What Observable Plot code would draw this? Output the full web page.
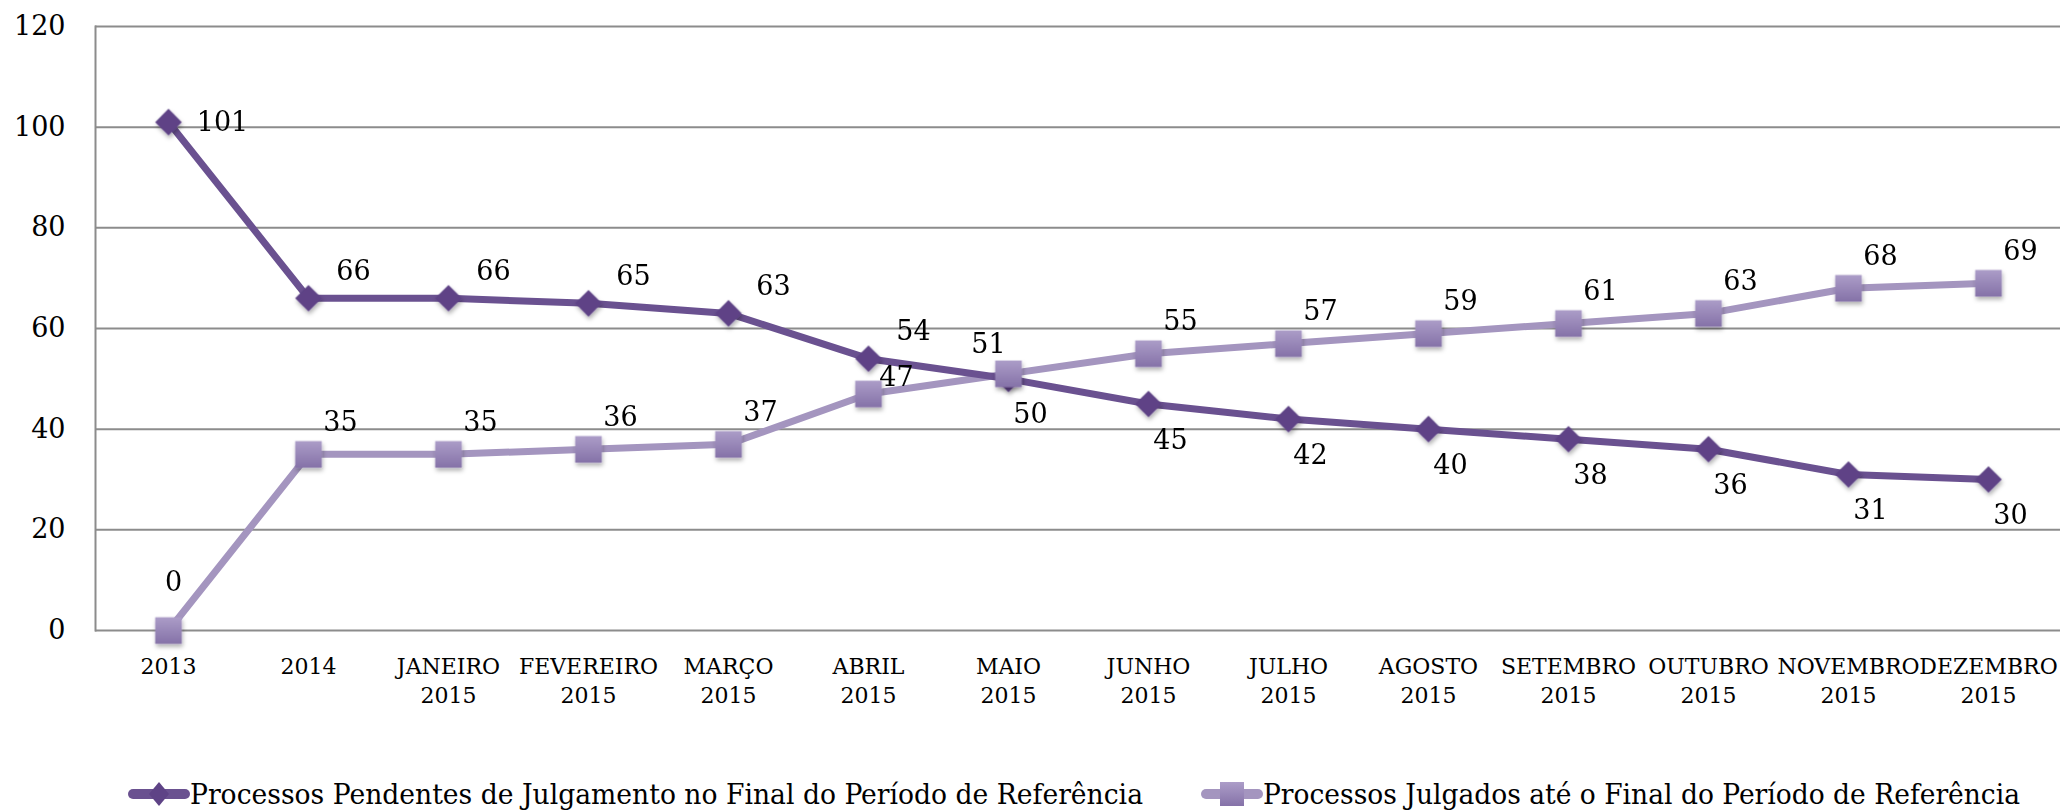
<!DOCTYPE html>
<html><head><meta charset="utf-8">
<script src="https://cdn.jsdelivr.net/npm/d3@7"></script>
<script src="https://cdn.jsdelivr.net/npm/@observablehq/plot@0.6"></script>
<style>
body{margin:0;background:#fff;color:#000;}
#legend svg{display:block;}
</style></head><body><div id="chart"></div><div id="legend"></div>
<script>
const categories = ["2013","2014","JANEIRO 2015","FEVEREIRO 2015","MARÇO 2015","ABRIL 2015","MAIO 2015","JUNHO 2015","JULHO 2015","AGOSTO 2015","SETEMBRO 2015","OUTUBRO 2015","NOVEMBRO 2015","DEZEMBRO 2015"];
const pendentes = [101,66,66,65,63,54,50,45,42,40,38,36,31,30];
const julgados = [0,35,35,36,37,47,51,55,57,59,61,63,68,69];
const yTicks = [0,20,40,60,80,100,120];
const seriesNames = ["Processos Pendentes de Julgamento no Final do Período de Referência","Processos Julgados até o Final do Período de Referência"];

const darkLine = "#6a5190", darkMark = "#5e4386";
const lightLine = "#a495bf";
const rows = categories.map((c,i)=>({i, cat:c, pend:pendentes[i], julg:julgados[i], gap:pendentes[i]-julgados[i]}));
const F = "DejaVu Serif";
const T = (data, y, dx, dy) => Plot.text(data,{x:"cat", y, text:d=>String(d[y]), dx, dy, fontSize:27, fontFamily:F});

const chart = Plot.plot({
  width:2062, height:730,
  marginLeft:95, marginRight:2, marginTop:26, marginBottom:100,
  x:{type:"point", domain:categories, padding:0.5},
  y:{domain:[0,120]},
  style:{fontFamily:F, color:"#000", background:"#fff"},
  marks:[
    Plot.gridY(yTicks,{stroke:"#8c8c8c", strokeOpacity:1, strokeWidth:2}),
    Plot.frame({anchor:"left", stroke:"#8c8c8c", strokeWidth:2}),
    Plot.axisY(yTicks,{tickSize:0, tickPadding:30, fontSize:27, fontFamily:F, label:null}),
    Plot.axisX({tickSize:0, tickPadding:22, fontSize:22, fontFamily:F, lineHeight:1.35, label:null, tickFormat:d=>d.replace(" ","\n")}),
    Plot.line(rows,{x:"cat", y:"julg", stroke:lightLine, strokeWidth:7}),
    Plot.line(rows,{x:"cat", y:"pend", stroke:darkLine, strokeWidth:7}),
    Plot.dot(rows,{x:"cat", y:"pend", symbol:"diamond2", r:12, fill:darkMark}),
    Plot.dot(rows,{x:"cat", y:"julg", symbol:"square", r:15, fill:"url(#sqgrad)"}),
    // pending labels
    T(rows.filter(d=>d.i===0), "pend", 54, 0),
    T(rows.filter(d=>d.i>0 && d.gap>0), "pend", 45, -27),
    T(rows.filter(d=>d.gap<0), "pend", 22, 36),
    // judged labels
    T(rows.filter(d=>d.i===0), "julg", 5, -48),
    T(rows.filter(d=>d.i>0 && Math.abs(d.gap)>=10), "julg", 32, -32),
    T(rows.filter(d=>d.gap>=3 && d.gap<10), "julg", 28, -17),
    T(rows.filter(d=>d.i>0 && d.gap<=-3 && d.gap>-10), "julg", 34, -20),
    T(rows.filter(d=>Math.abs(d.gap)<3), "julg", -20, -29)
  ]
});

const svg = d3.select(chart);
const defs = svg.insert("defs",":first-child");
const g = defs.append("linearGradient").attr("id","sqgrad").attr("x1",0).attr("y1",0).attr("x2",0).attr("y2",1);
g.append("stop").attr("offset","0%").attr("stop-color","#ac9dc8");
g.append("stop").attr("offset","100%").attr("stop-color","#8572a8");
const f = defs.append("filter").attr("id","shadow").attr("x","-50%").attr("y","-50%").attr("width","200%").attr("height","200%");
f.append("feDropShadow").attr("dx",1).attr("dy",3).attr("stdDeviation",2).attr("flood-color","#000").attr("flood-opacity",0.3);
svg.selectAll('g[aria-label="dot"]').attr("filter","url(#shadow)");
document.getElementById("chart").appendChild(chart);

// legend (separate SVG below the chart)
const leg = d3.select("#legend").append("svg").attr("width",2062).attr("height",82)
  .attr("font-family",F).attr("font-size",28);
const lg = leg.append("defs").append("linearGradient").attr("id","lg2").attr("x1",0).attr("y1",0).attr("x2",0).attr("y2",1);
lg.append("stop").attr("offset","0").attr("stop-color","#ac9dc8");
lg.append("stop").attr("offset","1").attr("stop-color","#8572a8");
const items = [
  {x:128, w:953, color:darkLine, mark:"diamond"},
  {x:1201, w:757, color:lightLine, mark:"square"}
];
items.forEach((it,i)=>{
  const g = leg.append("g").attr("transform",`translate(${it.x},64)`);
  g.append("line").attr("x1",5).attr("x2",57).attr("y1",0).attr("y2",0)
    .attr("stroke",it.color).attr("stroke-width",10).attr("stroke-linecap","round");
  if (it.mark==="diamond") g.append("path").attr("d","M31,-12 L41,0 L31,12 L21,0Z").attr("fill",darkMark);
  else g.append("rect").attr("x",19).attr("y",-12).attr("width",24).attr("height",24).attr("fill","url(#lg2)");
  g.append("text").attr("x",62).attr("y",10).attr("textLength",it.w).attr("lengthAdjust","spacingAndGlyphs")
    .attr("fill","#000").text(seriesNames[i]);
});
</script>
</body></html>
